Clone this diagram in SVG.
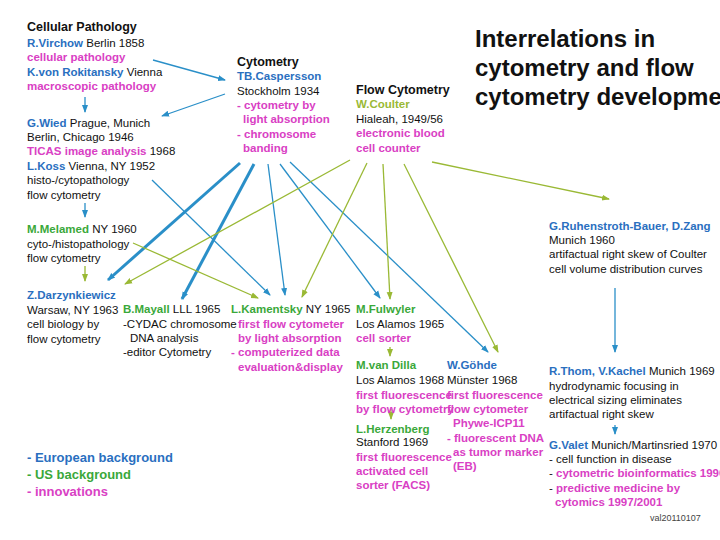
<svg xmlns="http://www.w3.org/2000/svg" width="720" height="540" viewBox="0 0 720 540">
<style>
text{font-family:"Liberation Sans",Arial,sans-serif;font-size:11.5px;fill:#111}
.h{font-weight:bold;font-size:12.5px}
.t{font-weight:bold;font-size:24px}
.b{fill:#2a6fbf;font-weight:bold}
.g{fill:#3aa83a;font-weight:bold}
.o{fill:#9ab935;font-weight:bold}
.m{fill:#d940c4;font-weight:bold}
.lg{font-size:13px;font-weight:bold}
.bl{stroke:#2a8fc8;stroke-width:1.3;fill:none;marker-end:url(#ab)}
.bk{stroke:#2a8fc8;stroke-width:3;fill:none;marker-end:url(#ab)}
.gl{stroke:#9ab935;stroke-width:1.3;fill:none;marker-end:url(#ag)}
</style>
<defs>
<marker id="ab" markerWidth="8" markerHeight="8" refX="7" refY="4" orient="auto" markerUnits="userSpaceOnUse"><path d="M0,1 L8,4 L0,7 z" fill="#2a8fc8"/></marker>
<marker id="ag" markerWidth="8" markerHeight="8" refX="7" refY="4" orient="auto" markerUnits="userSpaceOnUse"><path d="M0,1 L8,4 L0,7 z" fill="#9ab935"/></marker>
</defs>
<rect width="720" height="540" fill="#fff"/>
<g id="connectors">
<line class="bl" x1="153" y1="60" x2="225" y2="80"/>
<line class="bl" x1="225" y1="94" x2="162" y2="116"/>
<line class="bl" x1="85" y1="97" x2="85" y2="112"/>
<line class="bl" x1="85" y1="203" x2="85" y2="217"/>
<line class="gl" x1="85" y1="266" x2="85" y2="281"/>
<line class="bk" x1="240" y1="163" x2="108" y2="280"/>
<line class="bk" x1="254" y1="164" x2="182" y2="299"/>
<line class="bl" x1="268" y1="164" x2="285" y2="295"/>
<line class="bl" x1="280" y1="164" x2="380" y2="298"/>
<line class="bl" x1="290" y1="162" x2="488" y2="352"/>
<line class="bl" x1="152" y1="180" x2="270" y2="295"/>
<line class="gl" x1="350" y1="160" x2="125" y2="284"/>
<line class="gl" x1="367" y1="163" x2="302" y2="297"/>
<line class="gl" x1="383" y1="164" x2="390" y2="299"/>
<line class="gl" x1="404" y1="164" x2="498" y2="352"/>
<line class="gl" x1="432" y1="162" x2="609" y2="199"/>
<line class="gl" x1="133" y1="243" x2="258" y2="298"/>
<line class="bl" x1="615" y1="288" x2="615" y2="352"/>
<line class="gl" x1="390" y1="347" x2="390" y2="356"/>
<line class="gl" x1="391" y1="409" x2="391" y2="419"/>
<line class="bl" x1="615" y1="425" x2="615" y2="434"/>
</g>
<g id="title"><text class="t" x="475" y="47">Interrelations in</text><text class="t" x="475" y="76">cytometry and flow</text><text class="t" x="475" y="105">cytometry developme</text></g>
<g id="cellpath">
<text class="h" x="27" y="31">Cellular Pathology</text>
<text x="27" y="47"><tspan class="b">R.Virchow</tspan> Berlin 1858</text>
<text class="m" x="27" y="61">cellular pathology</text>
<text x="27" y="76"><tspan class="b">K.von Rokitansky</tspan> Vienna</text>
<text class="m" x="27" y="90">macroscopic pathology</text>
</g>
<g id="wied">
<text x="27" y="127"><tspan class="b">G.Wied</tspan> Prague, Munich</text>
<text x="27" y="141">Berlin, Chicago 1946</text>
<text x="27" y="155"><tspan class="m">TICAS image analysis</tspan> 1968</text>
<text x="27" y="170"><tspan class="b">L.Koss</tspan> Vienna, NY 1952</text>
<text x="27" y="184">histo-/cytopathology</text>
<text x="27" y="199">flow cytometry</text>
</g>
<g id="melamed">
<text x="27" y="233"><tspan class="g">M.Melamed</tspan> NY 1960</text>
<text x="27" y="248">cyto-/histopathology</text>
<text x="27" y="262">flow cytometry</text>
</g>
<g id="cytometry">
<text class="h" x="237" y="66">Cytometry</text>
<text class="b" x="237" y="80">TB.Caspersson</text>
<text x="237" y="95">Stockholm 1934</text>
<text class="m" x="237" y="109">- cytometry by</text>
<text class="m" x="243" y="123">light absorption</text>
<text class="m" x="237" y="138">- chromosome</text>
<text class="m" x="243" y="152">banding</text>
</g>
<g id="flowcyt">
<text class="h" x="356" y="94">Flow Cytometry</text>
<text class="o" x="356" y="108">W.Coulter</text>
<text x="356" y="123">Hialeah, 1949/56</text>
<text class="m" x="356" y="137">electronic blood</text>
<text class="m" x="356" y="152">cell counter</text>
</g>
<g id="ruhenstroth">
<text class="b" x="549" y="230">G.Ruhenstroth-Bauer, D.Zang</text>
<text x="549" y="244">Munich  1960</text>
<text x="549" y="258">artifactual right skew of  Coulter</text>
<text x="549" y="273">cell volume distribution curves</text>
</g>
<g id="darzynkiewicz">
<text class="b" x="27" y="299">Z.Darzynkiewicz</text>
<text x="27" y="314">Warsaw, NY 1963</text>
<text x="27" y="328">cell biology by</text>
<text x="27" y="343">flow cytometry</text>
</g>
<g id="mayall">
<text x="123" y="313"><tspan class="g">B.Mayall</tspan>  LLL 1965</text>
<text x="123" y="328">-CYDAC chromosome</text>
<text x="130" y="342">DNA analysis</text>
<text x="123" y="356">-editor Cytometry</text>
</g>
<g id="kamentsky">
<text x="231" y="313"><tspan class="g">L.Kamentsky</tspan> NY 1965</text>
<text class="m" x="238" y="328">first flow cytometer</text>
<text class="m" x="238" y="342">by light absorption</text>
<text class="m" x="231" y="356">- computerized data</text>
<text class="m" x="238" y="371">evaluation&amp;display</text>
</g>
<g id="fulwyler">
<text class="g" x="356" y="313">M.Fulwyler</text>
<text x="356" y="328">Los Alamos 1965</text>
<text class="m" x="356" y="342">cell sorter</text>
</g>
<g id="vandilla">
<text class="g" x="356" y="369">M.van Dilla</text>
<text x="356" y="384">Los Alamos 1968</text>
<text class="m" x="356" y="399">first fluorescence</text>
<text class="m" x="356" y="413">by flow cytometry</text>
</g>
<g id="herzenberg">
<text class="g" x="356" y="433">L.Herzenberg</text>
<text x="356" y="446">Stanford 1969</text>
<text class="m" x="356" y="461">first fluorescence</text>
<text class="m" x="356" y="475">activated cell</text>
<text class="m" x="356" y="489">sorter (FACS)</text>
</g>
<g id="gohde">
<text class="b" x="447" y="369">W.Göhde</text>
<text x="447" y="384">Münster 1968</text>
<text class="m" x="447" y="399">first fluorescence</text>
<text class="m" x="447" y="413">flow cytometer</text>
<text class="m" x="453" y="427">Phywe-ICP11</text>
<text class="m" x="447" y="442">- fluorescent DNA</text>
<text class="m" x="453" y="456">as tumor marker</text>
<text class="m" x="453" y="470">(EB)</text>
</g>
<g id="thom">
<text x="549" y="375"><tspan class="b">R.Thom, V.Kachel</tspan> Munich 1969</text>
<text x="549" y="390">hydrodynamic focusing in</text>
<text x="549" y="404">electrical sizing eliminates</text>
<text x="549" y="418">artifactual right skew</text>
</g>
<g id="valet">
<text x="549" y="449"><tspan class="b">G.Valet</tspan>  Munich/Martinsried 1970</text>
<text x="549" y="463">- cell function in disease</text>
<text x="549" y="477">- <tspan class="m">cytometric bioinformatics 1990</tspan></text>
<text x="549" y="492">- <tspan class="m">predictive medicine by</tspan></text>
<text class="m" x="555" y="506">cytomics  1997/2001</text>
<text x="650" y="521" style="font-size:9px;fill:#444">val20110107</text>
</g>
<g id="legend">
<text class="lg" x="27" y="462" style="fill:#2a6fbf">- European background</text>
<text class="lg" x="27" y="479" style="fill:#3aa83a">- US background</text>
<text class="lg" x="27" y="496" style="fill:#d940c4">- innovations</text>
</g>
</svg>
